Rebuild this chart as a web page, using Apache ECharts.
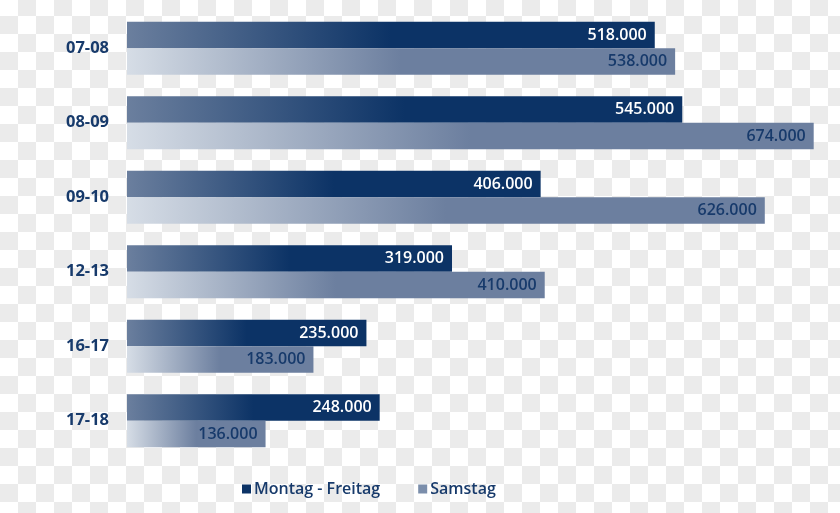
<!DOCTYPE html>
<html><head><meta charset="utf-8">
<script src="https://cdn.jsdelivr.net/npm/echarts@6/dist/echarts.min.js"></script>
<style>
html,body{margin:0;padding:0;}
#c{width:840px;height:513px;
background-color:#ffffff;
background-image:
 linear-gradient(45deg,#ebebeb 25%,transparent 25%,transparent 75%,#ebebeb 75%),
 linear-gradient(45deg,#ebebeb 25%,transparent 25%,transparent 75%,#ebebeb 75%);
background-size:36px 36px;background-position:0 -2px,18px 16px;}
</style></head>
<body><div id="c"></div>
<script>
const categories = ['07-08','08-09','09-10','12-13','16-17','17-18'];
const montagFreitag = [518, 545, 406, 319, 235, 248];
const samstag = [538, 674, 626, 410, 183, 136];
const seriesNames = ['Montag - Freitag','Samstag'];

const chart = echarts.init(document.getElementById('c'));
const grad = (c0, c1, s) => new echarts.graphic.LinearGradient(0,0,1,0,[
  {offset:0,color:c0},{offset:s,color:c1},{offset:1,color:c1}]);
const lblFont = {fontFamily:'Open Sans',fontWeight:600,fontSize:16};
chart.setOption({
  animation:false,
  grid:{left:127,right:10,top:11,height:447,containLabel:false},
  xAxis:{type:'value',min:0,max:690,show:false},
  yAxis:{type:'category',data:categories,inverse:true,
    axisLine:{show:false},axisTick:{show:false},splitLine:{show:false},
    axisLabel:{margin:18,color:'#173a6b',fontFamily:'Open Sans',fontWeight:700,fontSize:16.5}},
  legend:{bottom:11,left:237,itemWidth:9,itemHeight:9,itemGap:38,icon:'rect',
    textStyle:{color:'#173a6b',fontFamily:'Open Sans',fontWeight:600,fontSize:16,padding:[0,0,0,-2]},
    data:[{name:seriesNames[0],itemStyle:{color:'#0c3366'}},{name:seriesNames[1],itemStyle:{color:'#7b8eab'}}]},
  series:[
    {name:seriesNames[0],type:'bar',data:montagFreitag,barWidth:26.5,barGap:'0%',
     itemStyle:{color:grad('#6b7f9e','#0c3366',0.5)},
     label:{show:true,position:'insideRight',distance:8,color:'#ffffff',...lblFont,
       formatter:p=>p.value+'.000'}},
    {name:seriesNames[1],type:'bar',data:samstag,barWidth:26.5,barGap:'0%',
     itemStyle:{color:grad('#d6dde6','#6c7f9f',0.5)},
     label:{show:true,position:'insideRight',distance:8,color:'#173a6b',...lblFont,
       formatter:p=>p.value+'.000'}}
  ]
});
</script></body></html>
